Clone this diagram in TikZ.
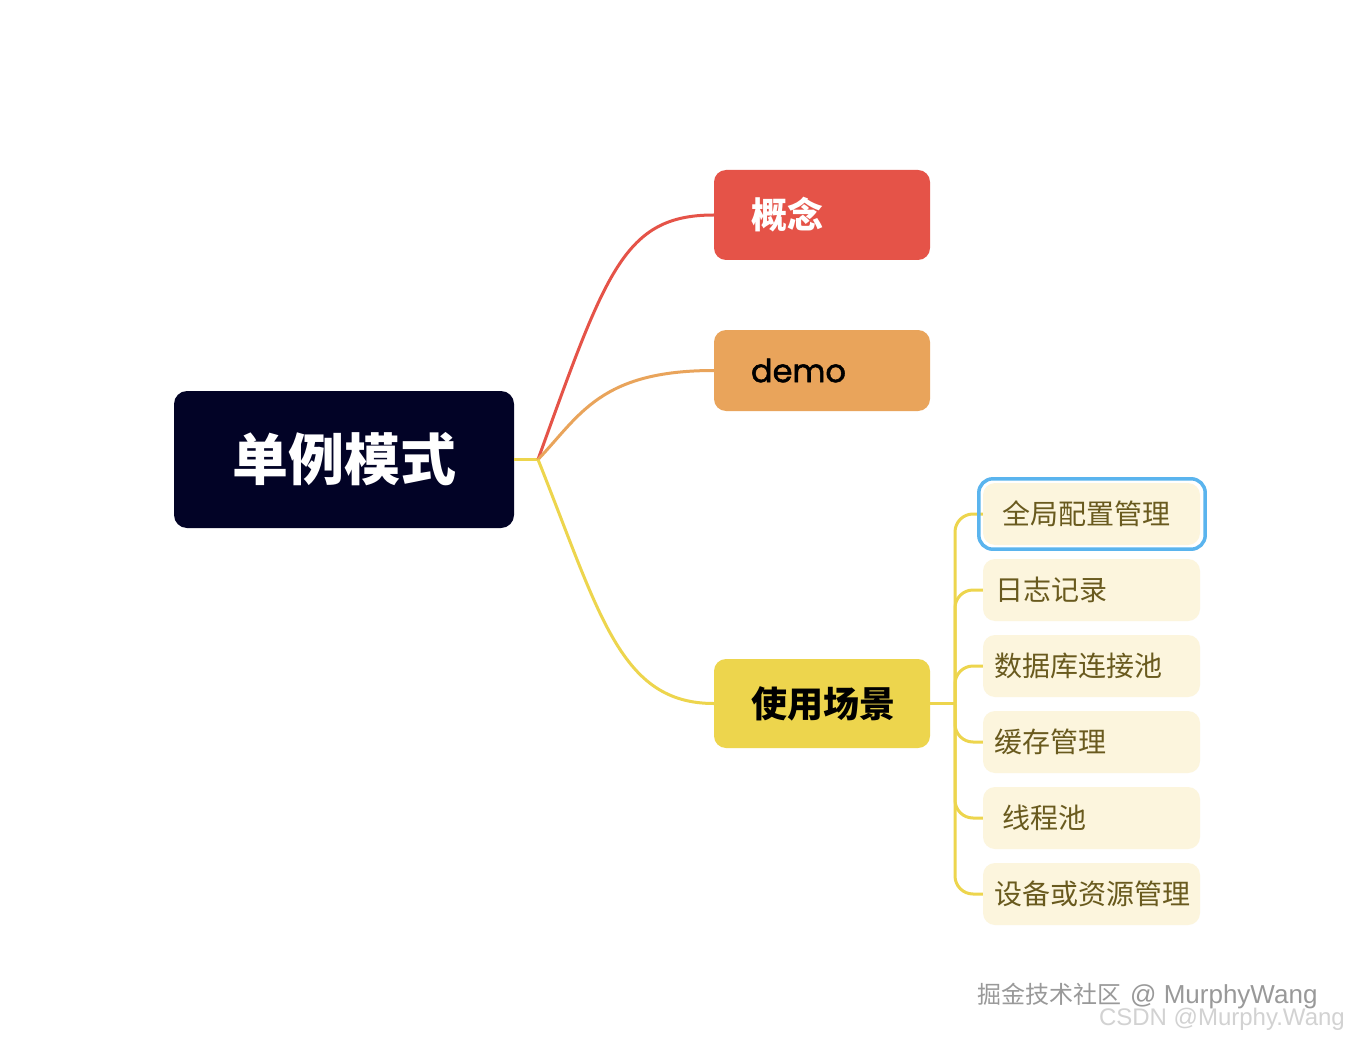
\documentclass[tikz,border=0pt]{standalone}
\usepackage{fontspec}
\setmainfont{Noto Sans CJK SC}
\newfontfamily\demofont[FakeBold=1.6]{Poppins}
\newfontfamily\markfont{Liberation Sans}
\usetikzlibrary{calc}
\definecolor{mapRoot}{RGB}{2,3,38}
\definecolor{mapR}{RGB}{229,83,72}
\definecolor{mapO}{RGB}{233,164,91}
\definecolor{mapY}{RGB}{237,213,77}
\definecolor{leafFill}{RGB}{252,245,221}
\definecolor{leafText}{RGB}{105,90,30}
\definecolor{selB}{RGB}{90,180,238}
\newcommand{\fsz}[1]{\fontsize{#1}{#1}\selectfont}

\begin{document}
\begin{tikzpicture}[x=1pt, y=-1pt,
  rootbox/.style={rounded corners=13pt, fill=mapRoot, text=white, minimum width=340pt, minimum height=137pt, inner sep=0pt, font=\fsz{56}\bfseries},
  topic/.style={rounded corners=12pt, minimum width=216pt, inner xsep=37pt, inner ysep=0pt, text width=142pt, align=left},
  leaf/.style={rounded corners=12pt, fill=leafFill, text=leafText, minimum width=217pt, minimum height=62pt, inner xsep=11pt, inner ysep=0pt, text width=195pt, align=left, font=\fsz{28}},
  branch/.style={line width=3pt}]
\fill[white] (0,0) rectangle (1348,1040);
\useasboundingbox (0,0) rectangle (1348,1040);
% root and main topics
\node[rootbox] (root) at (344,459.5) {单例模式};
\node[topic, fill=mapR, text=white, minimum height=90pt, font=\fsz{36}\bfseries] (concept) at (822,215) {概念};
\node[topic, fill=mapO, minimum height=81pt, font=\demofont\fsz{32}] (demo) at (822,370.5) {demo};
\node[topic, fill=mapY, minimum height=89pt, font=\fsz{36}\bfseries] (scene) at (822,703.5) {使用场景};
% usage leaves
\foreach \dx/\txt [count=\i] in {8/全局配置管理, 1/日志记录, 0/数据库连接池, 0/缓存管理, 8/线程池, 0/设备或资源管理}
  \node[leaf] (leaf\i) at (1091.5,{438+76*\i}) {\hspace*{\dx pt}\txt};
% branches
\coordinate (rhub) at (538,459.5);
\coordinate (shub) at (955,703.5);
\draw[branch, mapY] (root.east) -- (rhub);
\draw[branch, mapR] (rhub) .. controls +(68,-188) and +(-90,0) .. (concept.west);
\draw[branch, mapO] (rhub) .. controls +(42,-44) and +(-114,0) .. (demo.west);
\draw[branch, mapY] (rhub) .. controls +(62,155) and +(-94,0) .. (scene.west);
\draw[branch, mapY] (scene.east) -- (shub);
\foreach \i in {1,...,6}
  \draw[branch, mapY, rounded corners=18pt] (shub) |- (leaf\i.west);
% selected leaf
\draw[selB, line width=3.5pt, rounded corners=14pt] ($(leaf1.south west)+(-4,4)$) rectangle ($(leaf1.north east)+(5,-4)$);
% watermark
\node[anchor=west, text=gray!80, inner sep=0pt] (mark1) at (977,996) {{\fsz{24}掘金技术社区}\hspace{9pt}{\markfont\fsz{26}@ MurphyWang}};
\node[anchor=east, text=gray!35, inner sep=0pt, font=\markfont\fsz{24}] (mark2) at (1345,1019) {CSDN @Murphy.Wang};
\end{tikzpicture}
\end{document}
